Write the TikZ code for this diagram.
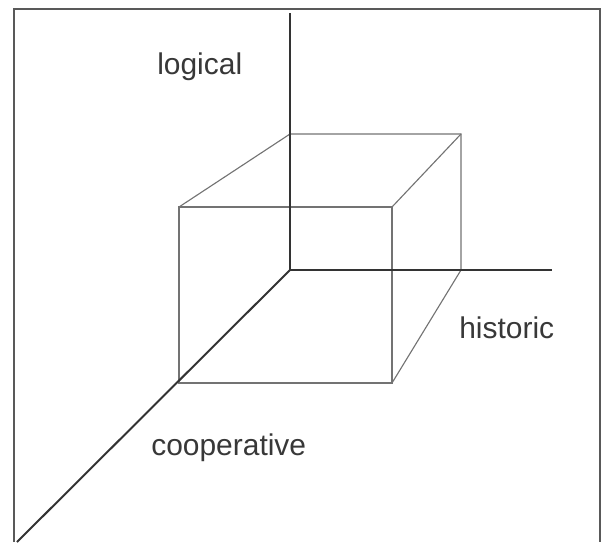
\documentclass[tikz,border=0pt]{standalone}
\usepackage{fontspec}
\setmainfont{Liberation Sans}
\usepackage{tikz}
\usetikzlibrary{positioning}

\begin{document}
\begin{tikzpicture}[x=0.025cm, y=-0.025cm,
  axisline/.style={line width=1.4pt, draw=black!80},
  cubeline/.style={line width=0.8pt, draw=black!55},
  axislabel/.style={font=\fontsize{21.3}{25}\selectfont, text=black!78, inner sep=0pt, anchor=base west}]
  \useasboundingbox (0,0) rectangle (604,542);

  %% Frame, open at the bottom
  \draw[line width=1.4pt, black!65] (14,542) -- (14,9) -- (600,9) -- (600,542);

  %% Axis ends
  \coordinate (origin) at (290,270);
  \coordinate (logEnd) at (290,13);
  \coordinate (hisEnd) at (552,270);
  \coordinate (coopEnd) at (17,542);

  %% Cube corners (back face, front face)
  \coordinate (bTL) at (290,134);
  \coordinate (bTR) at (461,134);
  \coordinate (bBR) at (461,270);
  \coordinate (fTL) at (179,207);
  \coordinate (fTR) at (392,207);
  \coordinate (fBL) at (179,383);
  \coordinate (fBR) at (392,383);

  %% Cube
  \draw[cubeline] (fTL) rectangle (fBR);
  \draw[cubeline] (fTL) -- (bTL) -- (bTR) -- (bBR) -- (fBR);
  \draw[cubeline] (fTR) -- (bTR);

  %% Axes
  \draw[axisline] (origin) -- (logEnd);
  \draw[axisline] (origin) -- (hisEnd);
  \draw[axisline] (origin) -- (coopEnd);

  %% Labels
  \node[axislabel] (logical) at (157,74) {logical};
  \node[axislabel] (historic) at (459,338) {historic};
  \node[axislabel] (cooperative) at (151,455) {cooperative};
\end{tikzpicture}
\end{document}
